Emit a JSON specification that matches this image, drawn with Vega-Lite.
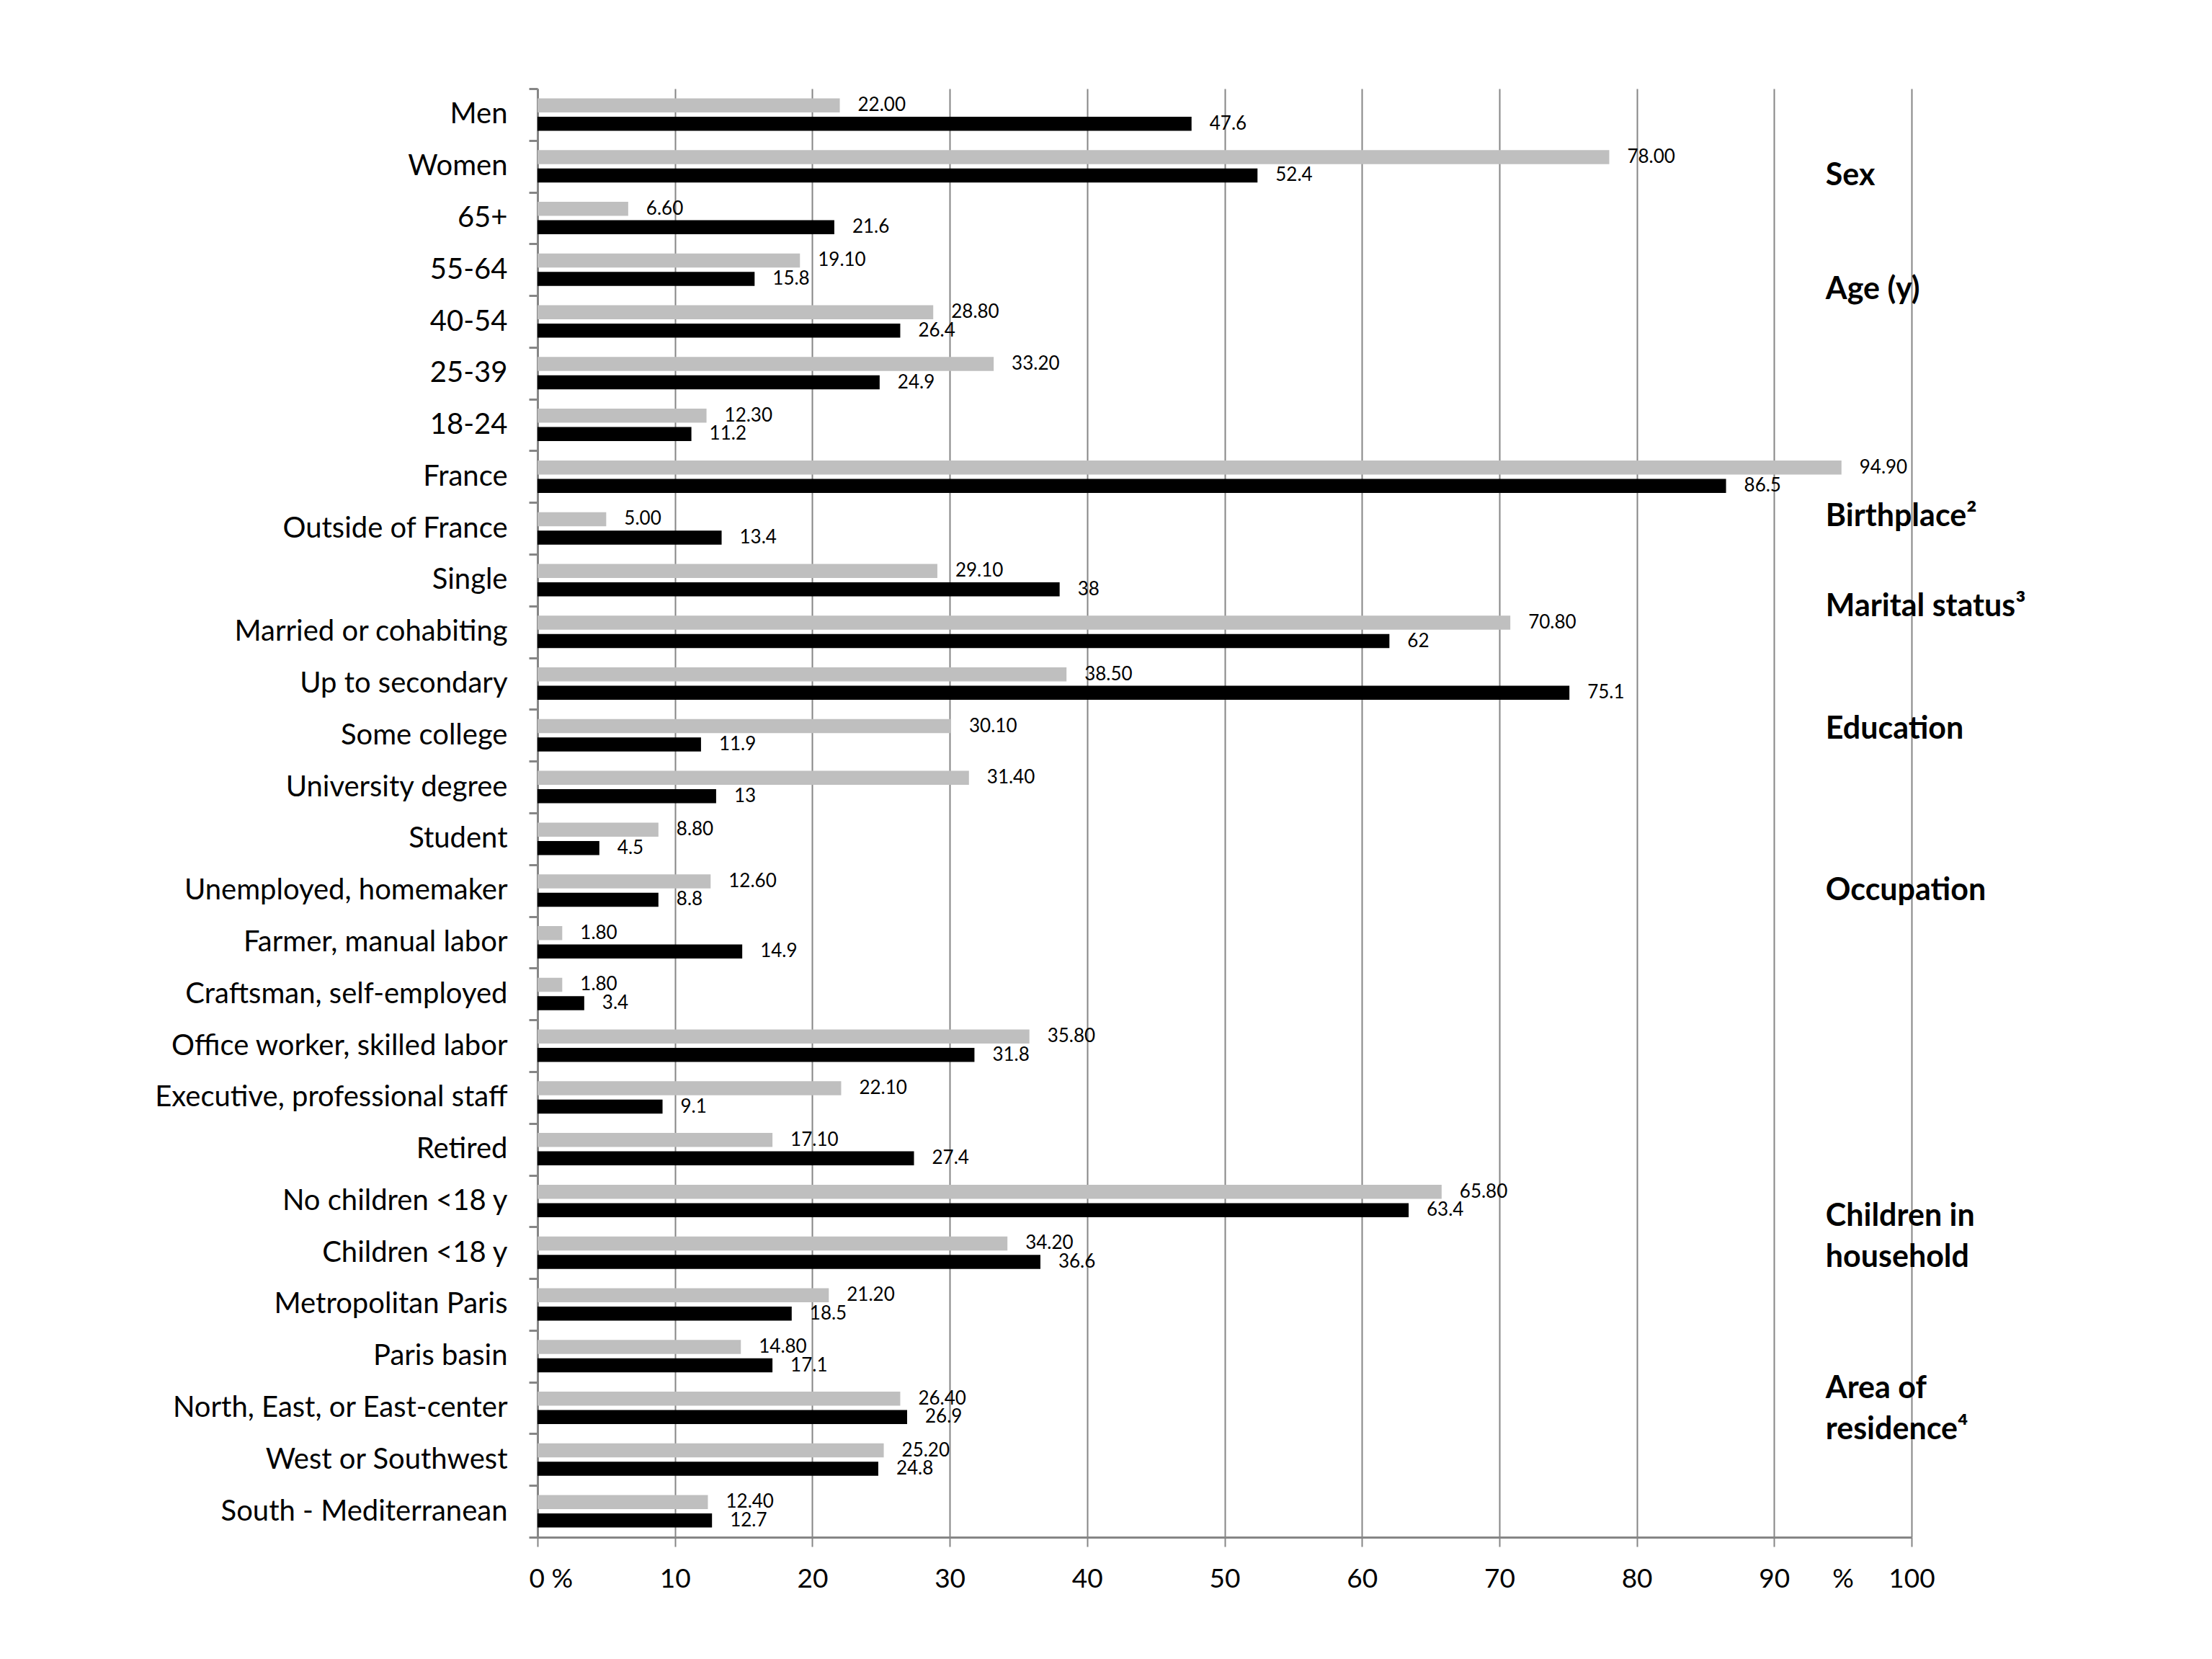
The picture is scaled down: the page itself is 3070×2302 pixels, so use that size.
{
  "$schema": "https://vega.github.io/schema/vega-lite/v6.json",
  "autosize": {"type": "none"},
  "padding": {"left": 746, "top": 123, "right": 417, "bottom": 169},
  "width": 1907,
  "height": 2010,
  "background": "white",
  "config": {"view": {"stroke": null}, "font": "Lato"},
  "data": {"values": [
    {"category": "Men", "series": "Series 1", "value": 22.00},
    {"category": "Men", "series": "Series 2", "value": 47.6},
    {"category": "Women", "series": "Series 1", "value": 78.00},
    {"category": "Women", "series": "Series 2", "value": 52.4},
    {"category": "65+", "series": "Series 1", "value": 6.60},
    {"category": "65+", "series": "Series 2", "value": 21.6},
    {"category": "55-64", "series": "Series 1", "value": 19.10},
    {"category": "55-64", "series": "Series 2", "value": 15.8},
    {"category": "40-54", "series": "Series 1", "value": 28.80},
    {"category": "40-54", "series": "Series 2", "value": 26.4},
    {"category": "25-39", "series": "Series 1", "value": 33.20},
    {"category": "25-39", "series": "Series 2", "value": 24.9},
    {"category": "18-24", "series": "Series 1", "value": 12.30},
    {"category": "18-24", "series": "Series 2", "value": 11.2},
    {"category": "France", "series": "Series 1", "value": 94.90},
    {"category": "France", "series": "Series 2", "value": 86.5},
    {"category": "Outside of France", "series": "Series 1", "value": 5.00},
    {"category": "Outside of France", "series": "Series 2", "value": 13.4},
    {"category": "Single", "series": "Series 1", "value": 29.10},
    {"category": "Single", "series": "Series 2", "value": 38},
    {"category": "Married or cohabiting", "series": "Series 1", "value": 70.80},
    {"category": "Married or cohabiting", "series": "Series 2", "value": 62},
    {"category": "Up to secondary", "series": "Series 1", "value": 38.50},
    {"category": "Up to secondary", "series": "Series 2", "value": 75.1},
    {"category": "Some college", "series": "Series 1", "value": 30.10},
    {"category": "Some college", "series": "Series 2", "value": 11.9},
    {"category": "University degree", "series": "Series 1", "value": 31.40},
    {"category": "University degree", "series": "Series 2", "value": 13},
    {"category": "Student", "series": "Series 1", "value": 8.80},
    {"category": "Student", "series": "Series 2", "value": 4.5},
    {"category": "Unemployed, homemaker", "series": "Series 1", "value": 12.60},
    {"category": "Unemployed, homemaker", "series": "Series 2", "value": 8.8},
    {"category": "Farmer, manual labor", "series": "Series 1", "value": 1.80},
    {"category": "Farmer, manual labor", "series": "Series 2", "value": 14.9},
    {"category": "Craftsman, self-employed", "series": "Series 1", "value": 1.80},
    {"category": "Craftsman, self-employed", "series": "Series 2", "value": 3.4},
    {"category": "Office worker, skilled labor", "series": "Series 1", "value": 35.80},
    {"category": "Office worker, skilled labor", "series": "Series 2", "value": 31.8},
    {"category": "Executive, professional staff", "series": "Series 1", "value": 22.10},
    {"category": "Executive, professional staff", "series": "Series 2", "value": 9.1},
    {"category": "Retired", "series": "Series 1", "value": 17.10},
    {"category": "Retired", "series": "Series 2", "value": 27.4},
    {"category": "No children <18 y", "series": "Series 1", "value": 65.80},
    {"category": "No children <18 y", "series": "Series 2", "value": 63.4},
    {"category": "Children <18 y", "series": "Series 1", "value": 34.20},
    {"category": "Children <18 y", "series": "Series 2", "value": 36.6},
    {"category": "Metropolitan Paris", "series": "Series 1", "value": 21.20},
    {"category": "Metropolitan Paris", "series": "Series 2", "value": 18.5},
    {"category": "Paris basin", "series": "Series 1", "value": 14.80},
    {"category": "Paris basin", "series": "Series 2", "value": 17.1},
    {"category": "North, East, or East-center", "series": "Series 1", "value": 26.40},
    {"category": "North, East, or East-center", "series": "Series 2", "value": 26.9},
    {"category": "West or Southwest", "series": "Series 1", "value": 25.20},
    {"category": "West or Southwest", "series": "Series 2", "value": 24.8},
    {"category": "South - Mediterranean", "series": "Series 1", "value": 12.40},
    {"category": "South - Mediterranean", "series": "Series 2", "value": 12.7}
  ]},
  "encoding": {
    "y": {
      "field": "category", "type": "nominal",
      "scale": {
        "domain": ["Men", "Women", "65+", "55-64", "40-54", "25-39", "18-24", "France", "Outside of France", "Single", "Married or cohabiting", "Up to secondary", "Some college", "University degree", "Student", "Unemployed, homemaker", "Farmer, manual labor", "Craftsman, self-employed", "Office worker, skilled labor", "Executive, professional staff", "Retired", "No children <18 y", "Children <18 y", "Metropolitan Paris", "Paris basin", "North, East, or East-center", "West or Southwest", "South - Mediterranean"],
        "paddingInner": 0, "paddingOuter": 0
      },
      "axis": {
        "title": null, "tickBand": "extent", "grid": false,
        "domainColor": "#868686", "domainWidth": 3,
        "tickColor": "#868686", "tickWidth": 3, "tickSize": 12,
        "labelPadding": 30, "labelFontSize": 40, "labelColor": "black", "labelFont": "Lato", "labelLimit": 0
      }
    }
  },
  "layer": [
    {
      "mark": {"type": "bar"},
      "encoding": {
        "yOffset": {"field": "series", "type": "nominal", "scale": {"domain": ["Series 1", "Series 2"], "paddingInner": 0.235, "paddingOuter": 0.525}},
        "x": {
          "field": "value", "type": "quantitative",
          "scale": {"domain": [0, 100], "nice": false},
          "axis": {
            "title": null,
            "values": [0, 10, 20, 30, 40, 50, 60, 70, 80, 90, 95, 100],
            "labelExpr": "datum.value == 0 ? '0 %' : (datum.value == 95 ? '%' : datum.label)",
            "grid": true, "gridColor": "#868686", "gridWidth": 2,
            "gridOpacity": {"condition": {"test": "datum.value == 95", "value": 0}, "value": 1},
            "tickOpacity": {"condition": {"test": "datum.value == 95", "value": 0}, "value": 1},
            "domainColor": "#868686", "domainWidth": 3,
            "tickColor": "#868686", "tickWidth": 2, "tickSize": 13,
            "labelPadding": 27, "labelFontSize": 37, "labelColor": "black", "labelFont": "Lato",
            "labelFlush": false, "labelOverlap": false,
            "labelAlign": {"condition": {"test": "datum.value == 0", "value": "left"}, "value": "center"},
            "labelOffset": {"condition": {"test": "datum.value == 0", "value": -12}, "value": 0}
          }
        },
        "color": {"field": "series", "type": "nominal", "scale": {"domain": ["Series 1", "Series 2"], "range": ["#BFBFBF", "#000000"]}, "legend": null}
      }
    },
    {
      "transform": [{"filter": "datum.series == 'Series 1'"}],
      "mark": {"type": "text", "align": "left", "baseline": "middle", "dx": 25, "fontSize": 26, "color": "black"},
      "encoding": {
        "yOffset": {"field": "series", "type": "nominal", "scale": {"domain": ["Series 1", "Series 2"]}},
        "x": {"field": "value", "type": "quantitative"},
        "text": {"field": "value", "type": "quantitative", "format": ".2f"}
      }
    },
    {
      "transform": [{"filter": "datum.series == 'Series 2'"}],
      "mark": {"type": "text", "align": "left", "baseline": "middle", "dx": 25, "fontSize": 26, "color": "black"},
      "encoding": {
        "yOffset": {"field": "series", "type": "nominal", "scale": {"domain": ["Series 1", "Series 2"]}},
        "x": {"field": "value", "type": "quantitative"},
        "text": {"field": "value", "type": "nominal"}
      }
    },
    {
      "data": {"values": [{"category": "Women", "group": "Sex"}]},
      "mark": {"type": "text", "align": "left", "baseline": "middle", "fontSize": 43, "fontWeight": "bold", "color": "black"},
      "encoding": {"y": {"field": "category", "type": "nominal", "bandPosition": 0.69}, "x": {"datum": 93.75}, "text": {"field": "group"}}
    },
    {
      "data": {"values": [{"category": "55-64", "group": "Age (y)"}]},
      "mark": {"type": "text", "align": "left", "baseline": "middle", "fontSize": 43, "fontWeight": "bold", "color": "black"},
      "encoding": {"y": {"field": "category", "type": "nominal", "bandPosition": 0.89}, "x": {"datum": 93.75}, "text": {"field": "group"}}
    },
    {
      "data": {"values": [{"category": "Outside of France", "group": "Birthplace²"}]},
      "mark": {"type": "text", "align": "left", "baseline": "middle", "fontSize": 43, "fontWeight": "bold", "color": "black"},
      "encoding": {"y": {"field": "category", "type": "nominal", "bandPosition": 0.27}, "x": {"datum": 93.75}, "text": {"field": "group"}}
    },
    {
      "data": {"values": [{"category": "Single", "group": "Marital status³"}]},
      "mark": {"type": "text", "align": "left", "baseline": "middle", "fontSize": 43, "fontWeight": "bold", "color": "black"},
      "encoding": {"y": {"field": "category", "type": "nominal", "bandPosition": 1.01}, "x": {"datum": 93.75}, "text": {"field": "group"}}
    },
    {
      "data": {"values": [{"category": "Some college", "group": "Education"}]},
      "mark": {"type": "text", "align": "left", "baseline": "middle", "fontSize": 43, "fontWeight": "bold", "color": "black"},
      "encoding": {"y": {"field": "category", "type": "nominal", "bandPosition": 0.38}, "x": {"datum": 93.75}, "text": {"field": "group"}}
    },
    {
      "data": {"values": [{"category": "Unemployed, homemaker", "group": "Occupation"}]},
      "mark": {"type": "text", "align": "left", "baseline": "middle", "fontSize": 43, "fontWeight": "bold", "color": "black"},
      "encoding": {"y": {"field": "category", "type": "nominal", "bandPosition": 0.5}, "x": {"datum": 93.75}, "text": {"field": "group"}}
    },
    {
      "data": {"values": [{"category": "No children <18 y", "group": "Children in\nhousehold"}]},
      "mark": {"type": "text", "align": "left", "baseline": "middle", "fontSize": 43, "fontWeight": "bold", "color": "black", "lineBreak": "\n", "lineHeight": 57},
      "encoding": {"y": {"field": "category", "type": "nominal", "bandPosition": 0.8}, "x": {"datum": 93.75}, "text": {"field": "group"}}
    },
    {
      "data": {"values": [{"category": "North, East, or East-center", "group": "Area of\nresidence⁴"}]},
      "mark": {"type": "text", "align": "left", "baseline": "middle", "fontSize": 43, "fontWeight": "bold", "color": "black", "lineBreak": "\n", "lineHeight": 57},
      "encoding": {"y": {"field": "category", "type": "nominal", "bandPosition": 0.125}, "x": {"datum": 93.75}, "text": {"field": "group"}}
    }
  ]
}
